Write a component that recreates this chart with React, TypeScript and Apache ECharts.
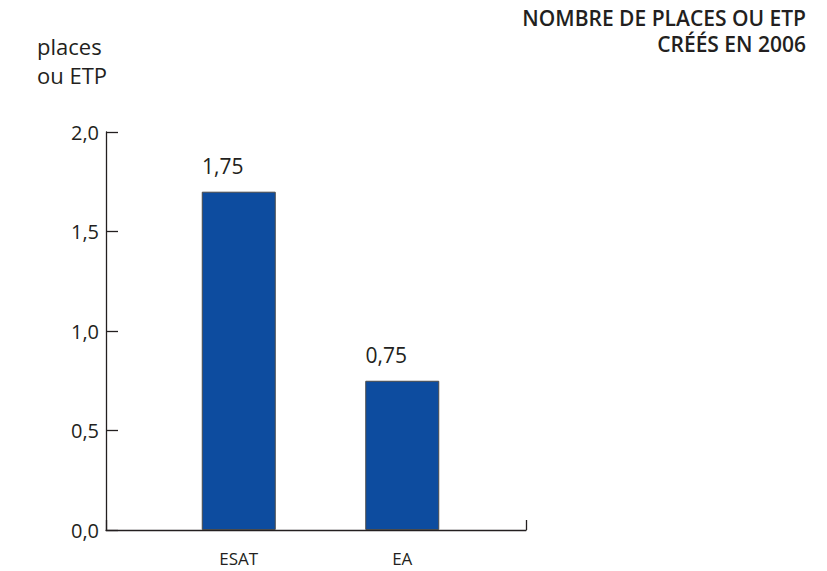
import React, { useEffect, useRef } from "react";
import * as echarts from "echarts";

const categories = ["ESAT", "EA"];
const values = [1.7, 0.75];
const valueLabels = ["1,75", "0,75"];
const yTicks = [0, 0.5, 1.0, 1.5, 2.0];
const titleLines = ["NOMBRE DE PLACES OU ETP", "CRÉÉS EN 2006"];
const unitLines = ["places", "ou ETP"];

const FONT = "'Open Sans', 'Noto Sans', sans-serif";

export default function App() {
  const ref = useRef<HTMLDivElement>(null);
  useEffect(() => {
    if (!ref.current) return;
    const chart = echarts.init(ref.current, undefined, { renderer: "svg" });
    const option: any = {
      animation: false,
      backgroundColor: "#ffffff",
      textStyle: { fontFamily: FONT },
      title: [
        {
          text: unitLines.join("\n"),
          left: 32,
          top: 26,
          textStyle: {
            fontFamily: FONT,
            fontSize: 22,
            fontWeight: 400,
            color: "#231f20",
            lineHeight: 29,
          },
        },
      ],
      graphic: titleLines.map((line, i) => ({
        type: "text",
        right: 21,
        top: 7 + i * 26,
        style: {
          text: line,
          fontFamily: FONT,
          fontSize: 21,
          fontWeight: 600,
          fill: "#231f20",
        },
      })),
      grid: [
        { left: 157, right: 343, top: 132, bottom: 41 },
        { left: 106, right: 301, top: 132, bottom: 41 },
      ],
      xAxis: [
        {
          type: "category",
          gridIndex: 0,
          data: categories,
          axisLine: { show: false },
          axisTick: { show: false },
          axisLabel: {
            margin: 19,
            fontSize: 17,
            lineHeight: 18,
            color: "#231f20",
            fontFamily: FONT,
          },
        },
        {
          type: "value",
          gridIndex: 1,
          min: 0,
          max: 1,
          interval: 1,
          axisLine: { show: true, lineStyle: { color: "#231f20", width: 1.3 } },
          axisTick: { show: true, inside: true, length: 10, lineStyle: { color: "#231f20", width: 1.3 } },
          axisLabel: { show: false },
          splitLine: { show: false },
        },
      ],
      yAxis: [
        {
          type: "value",
          gridIndex: 0,
          min: 0,
          max: 2,
          interval: 0.5,
          show: false,
        },
        {
          type: "value",
          gridIndex: 1,
          min: yTicks[0],
          max: yTicks[yTicks.length - 1],
          interval: 0.5,
          axisLine: { show: true, lineStyle: { color: "#231f20", width: 1.3 } },
          axisTick: { show: true, inside: true, length: 12, lineStyle: { color: "#231f20", width: 1.3 } },
          splitLine: { show: false },
          axisLabel: {
            margin: 7,
            fontSize: 20,
            color: "#231f20",
            fontFamily: FONT,
            formatter: (v: number) => v.toFixed(1).replace(".", ","),
          },
        },
      ],
      series: [
        {
          type: "bar",
          xAxisIndex: 0,
          yAxisIndex: 0,
          data: values,
          barWidth: 74,
          itemStyle: { color: "#0d4c9f", borderColor: "#4a4a4a", borderWidth: 1 },
          label: {
            show: true,
            position: "top",
            distance: 15,
            offset: [-16, 0],
            fontSize: 21,
            color: "#231f20",
            fontFamily: FONT,
            formatter: (p: any) => valueLabels[p.dataIndex],
          },
        },
      ],
    };
    chart.setOption(option);
    return () => chart.dispose();
  }, []);
  return (
    <div
      ref={ref}
      style={{ position: "fixed", left: 0, top: 0, width: 827, height: 571 }}
    />
  );
}
